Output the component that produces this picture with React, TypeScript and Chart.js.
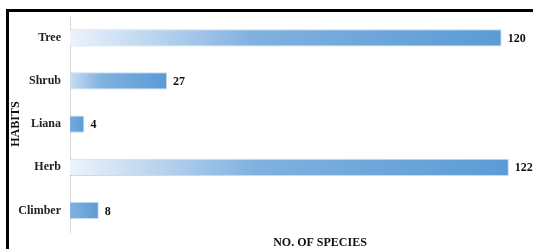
import React, { useEffect, useRef } from "react";
import { Chart, registerables } from "chart.js";

Chart.register(...registerables);

const categories = ["Tree", "Shrub", "Liana", "Herb", "Climber"];
const speciesCounts = [120, 27, 4, 122, 8];
const xAxisTitle = "NO. OF SPECIES";
const yAxisTitle = "HABITS";

const BLUE = "#5b9bd5";
const FONT = "'Liberation Serif', 'Times New Roman', serif";

const valueLabels = {
  id: "valueLabels",
  afterDatasetsDraw(chart: any) {
    const ctx = chart.ctx;
    const meta = chart.getDatasetMeta(0);
    ctx.save();
    ctx.font = `bold 12px ${FONT}`;
    ctx.fillStyle = "#111";
    ctx.textAlign = "left";
    ctx.textBaseline = "middle";
    meta.data.forEach((bar: any, i: number) => {
      ctx.fillText(String(speciesCounts[i]), bar.x + 6, bar.y + 1);
    });
    ctx.restore();
  },
};

export default function App() {
  const ref = useRef<HTMLCanvasElement>(null);
  useEffect(() => {
    if (!ref.current) return;
    const chart = new Chart(ref.current, {
      type: "bar",
      data: {
        labels: categories,
        datasets: [
          {
            data: speciesCounts,
            backgroundColor: (c: any) => {
              const ch = c.chart;
              const xs = ch.scales?.x;
              if (!ch.chartArea || !xs || c.raw == null) return BLUE;
              const x0 = xs.getPixelForValue(0) - 22;
              const x1 = xs.getPixelForValue(c.raw);
              if (!(x1 > x0)) return BLUE;
              const g = ch.ctx.createLinearGradient(x0, 0, x1, 0);
              g.addColorStop(0, "#f9fbfe");
              g.addColorStop(0.45, "#80b1df");
              g.addColorStop(1, BLUE);
              return g;
            },
            borderColor: "rgba(91,155,213,0.35)",
            borderWidth: 1,
            borderSkipped: "start",
            categoryPercentage: 1,
            barPercentage: 0.4,
          },
        ],
      },
      options: {
        indexAxis: "y",
        responsive: false,
        animation: false,
        events: [],
        layout: { padding: { top: 15, right: 10, left: 0, bottom: 0 } },
        plugins: {
          legend: { display: false },
          tooltip: { enabled: false },
          title: { display: false },
        },
        scales: {
          x: {
            min: 0,
            max: 139,
            ticks: { display: false },
            grid: { display: false, drawTicks: false },
            border: { display: false },
            title: {
              display: true,
              text: xAxisTitle,
              color: "#111",
              font: { family: FONT, size: 12, weight: "bold", lineHeight: 1 },
              padding: { top: 5, bottom: 0 },
            },
          },
          y: {
            afterFit: (s: any) => {
              s.width = 70;
            },
            ticks: {
              color: "#222",
              padding: 9,
              font: { family: FONT, size: 12, weight: "bold" },
            },
            grid: { display: false, drawTicks: false },
            border: { display: true, color: "#d9d9d9", width: 1 },
            title: {
              display: true,
              text: yAxisTitle,
              color: "#111",
              font: { family: FONT, size: 12, weight: "bold", lineHeight: 1 },
              padding: { top: 10, bottom: 0 },
            },
          },
        },
      },
      plugins: [valueLabels],
    } as any);
    return () => chart.destroy();
  }, []);

  return (
    <div
      style={{
        position: "fixed",
        left: 0,
        top: 0,
        width: 533,
        height: 249,
        overflow: "hidden",
        background: "#fff",
      }}
    >
      <div
        style={{
          position: "absolute",
          left: 6,
          top: 9,
          width: 620,
          height: 300,
          borderLeft: "3px solid #000",
          borderTop: "3px solid #000",
        }}
      />
      <canvas
        ref={ref}
        width={580}
        height={249}
        style={{ position: "absolute", left: 0, top: 0, width: 580, height: 249 }}
      />
    </div>
  );
}
